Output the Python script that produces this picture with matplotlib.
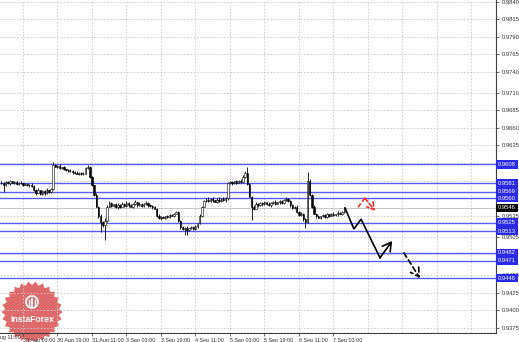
import numpy as np
import matplotlib
matplotlib.use("Agg")
import matplotlib.pyplot as plt
import matplotlib.transforms as mtransforms
from matplotlib.patches import Polygon, Circle

plt.rcParams["font.family"] = ["Liberation Sans", "DejaVu Sans"]

# ---------------- data ----------------
first_bar = 6
first_open = 0.9581
closes = [
    0.9582, 0.9579, 0.9583, 0.9581, 0.9584, 0.9582, 0.9583, 0.9580, 0.9582, 0.9581, 0.9579, 0.9580, 0.9578, 0.9579, 0.9577,
    0.9572, 0.9568, 0.9571, 0.9566, 0.9570, 0.9567, 0.9571, 0.9569, 0.9573,
    0.9607,
    0.9605, 0.9606, 0.9603, 0.9604, 0.9601, 0.9600, 0.9598, 0.9599, 0.9597, 0.9596, 0.9595, 0.9596, 0.9594, 0.9595,
    0.9603, 0.9605,
    0.9590, 0.9578, 0.9565, 0.9548, 0.9535,
    0.9526, 0.9522, 0.9528,
    0.9548, 0.9553,
    0.9549, 0.9551, 0.9547, 0.9550, 0.9548, 0.9552, 0.9549, 0.9553, 0.9550, 0.9548, 0.9551, 0.9554, 0.9550, 0.9552, 0.9549,
    0.9551, 0.9553, 0.9550, 0.9549, 0.9547, 0.9545,
    0.9535, 0.9531, 0.9533, 0.9532, 0.9534, 0.9533, 0.9536, 0.9535, 0.9538, 0.9540,
    0.9528, 0.9519, 0.9516, 0.9518, 0.9515, 0.9517, 0.9519, 0.9516, 0.9520, 0.9524,
    0.9535, 0.9548, 0.9556,
    0.9558, 0.9556, 0.9559, 0.9557, 0.9555, 0.9558, 0.9556, 0.9559, 0.9557, 0.9560,
    0.9581, 0.9583, 0.9581, 0.9584, 0.9582, 0.9585, 0.9583, 0.9590, 0.9596,
    0.9580, 0.9562, 0.9548, 0.9545,
    0.9552, 0.9550, 0.9553, 0.9551, 0.9554, 0.9552, 0.9550, 0.9553, 0.9555, 0.9552, 0.9554, 0.9556, 0.9553, 0.9557, 0.9559, 0.9556,
    0.9550, 0.9546, 0.9548, 0.9540, 0.9536, 0.9538, 0.9530, 0.9526,
    0.9585, 0.9565,
    0.9548, 0.9538, 0.9534, 0.9532,
    0.9534, 0.9536, 0.9533, 0.9537, 0.9535, 0.9538, 0.9536, 0.9537, 0.9539, 0.9538, 0.9540, 0.9546,
]
# wick lengths in pips beyond the candle body
wick_up = [
    2, 1, 2, 1, 2, 1, 1, 2, 1, 2, 1, 1, 2, 1, 2,
    2, 1, 3, 1, 2, 1, 3, 1, 2,
    4,
    2, 1, 2, 1, 2, 1, 1, 2, 1, 1, 2, 1, 1, 2,
    2, 2,
    1, 2, 1, 2, 1,
    2, 1, 3,
    2, 3,
    2, 1, 2, 3, 1, 2, 1, 3, 1, 2, 2, 3, 1, 2, 1, 2, 3, 1, 2, 1, 2,
    1, 2, 1, 2, 1, 2, 1, 2, 1, 2,
    2, 1, 2, 1, 2, 1, 2, 1, 2, 1,
    2, 1, 2,
    2, 3, 1, 2, 1, 2, 3, 1, 2, 1,
    2, 1, 2, 1, 2, 1, 2, 3, 2,
    8, 2, 1, 2,
    2, 1, 2, 1, 2, 1, 2, 2, 1, 2, 1, 2, 1, 2, 2, 1,
    1, 2, 1, 2, 1, 2, 1, 2,
    12, 2,
    1, 2, 1, 2,
    1, 2, 1, 2, 1, 1, 2, 1, 2, 1, 2, 1,
]
wick_dn = [
    1, 10, 2, 1, 2, 1, 2, 1, 2, 1, 2, 1, 1, 2, 1,
    2, 3, 1, 2, 1, 3, 1, 2, 1,
    1,
    1, 2, 1, 2, 1, 2, 1, 1, 2, 1, 1, 2, 1, 1,
    1, 2,
    2, 1, 2, 1, 3,
    14, 3, 22,
    2, 1,
    1, 2, 1, 2, 2, 1, 2, 1, 2, 1, 2, 1, 2, 1, 2, 1, 1, 2, 1, 2, 1,
    2, 1, 2, 1, 2, 1, 2, 1, 2, 1,
    2, 3, 2, 8, 8, 2, 1, 2, 1, 2,
    1, 2, 1,
    1, 2, 1, 2, 1, 2, 1, 2, 1, 2,
    2, 1, 2, 1, 2, 1, 2, 1, 1,
    2, 1, 19, 2,
    1, 2, 1, 2, 1, 2, 1, 2, 1, 2, 1, 2, 1, 2, 1, 2,
    2, 1, 2, 1, 2, 1, 2, 9,
    1, 2,
    2, 1, 2, 1,
    2, 1, 2, 1, 2, 1, 2, 1, 2, 1, 2, 1,
]

levels = [0.9608, 0.9581, 0.9569, 0.9560, 0.9525, 0.9513, 0.9482, 0.9471, 0.9446]
current_price = 0.9546

# grid/tick prices; labels hidden behind level boxes are left blank
price_ticks = [0.9840, 0.9815, 0.9790, 0.9765, 0.9740, 0.9710, 0.9685, 0.9660, 0.9635,
               0.9610, 0.9585, 0.9560, 0.9535, 0.9505, 0.9480, 0.9450, 0.9425, 0.9400, 0.9375]
price_tick_labels = ["0.9840", "0.9815", "0.9790", "0.9765", "0.9740", "0.9710", "0.9685", "0.9660", "0.9635",
                     "", "", "", "0.9535", "0.9505", "", "0.9450", "0.9425", "0.9400", "0.9375"]

time_tick_bars = [0, 16, 32, 48, 64, 80, 96, 112, 128, 144, 160]
time_tick_labels = ["29 Aug 11:00", "30 Aug 03:00", "30 Aug 19:00", "31 Aug 11:00", "3 Sep 03:00",
                    "3 Sep 19:00", "4 Sep 11:00", "5 Sep 03:00", "5 Sep 19:00", "6 Sep 11:00", "7 Sep 03:00"]
future_grid_bars = [176, 192, 208, 224]

# forecast paths (bar index, price)
main_path_bars = [165.4, 169.5, 172.8, 181.6, 187.2]
main_path_prices = [0.9546, 0.9516, 0.9530, 0.9475, 0.9499]
dash_path_bars = [192.7, 200.1]
dash_path_prices = [0.9482, 0.9446]
red_path_bars = [171.4, 174.6, 179.3]
red_path_prices = [0.9547, 0.9560, 0.9542]

# ---------------- figure ----------------
W, H = 519, 342
fig = plt.figure(figsize=(W / 100, H / 100), dpi=100)
fig.patch.set_facecolor("white")

# watermark logo (behind chart)
lax = fig.add_axes([0, 0, 1, 1])
lax.set_xlim(0, W)
lax.set_ylim(H, 0)
lax.axis("off")
lax.set_zorder(0)
cx, cy, n = 32, 312, 26
ang = np.linspace(0, 2 * np.pi, 2 * n, endpoint=False)
rad = np.where(np.arange(2 * n) % 2 == 0, 30.5, 27.0)
star = np.column_stack([cx + rad * np.cos(ang), cy + rad * np.sin(ang)])
lax.add_patch(Polygon(star, closed=True, fc="#dc5a5a", ec="none", alpha=0.9))
lax.add_patch(Circle((cx, 302), 6.0, fc="none", ec="white", lw=1.2))
lax.plot([cx, cx], [299, 307], color="white", lw=1.4)
lax.plot([cx - 3, cx - 3], [300, 305], color="white", lw=1.0)
lax.plot([cx + 3, cx + 3], [300, 305], color="white", lw=1.0)
lax.text(cx, 320, "InstaForex", color="white", fontsize=6.2, ha="center", va="center",
         fontweight="bold")

# main chart axes
ax = fig.add_axes([0, 9 / H, 496 / W, 333 / H])
ax.set_zorder(1)
ax.patch.set_visible(False)

x_min, x_max = 5.33, 235.4
y_min, y_max = 0.93679, 0.98422
ax.set_xlim(x_min, x_max)
ax.set_ylim(y_min, y_max)

# grid
for t in price_ticks:
    ax.axhline(t, color="#c8c8c8", lw=0.6, ls=(0, (2, 2)), zorder=0.5)
for b in time_tick_bars + future_grid_bars:
    ax.axvline(b, color="#c8c8c8", lw=0.6, ls=(0, (2, 2)), zorder=0.5)

# level lines
for lv in levels:
    ax.axhline(lv, color="#5a5af5", lw=1.0, zorder=1)
ax.axhline(current_price, color="#bdbdbd", lw=0.6, zorder=1)

# candles
closes_a = np.array(closes)
opens_a = np.concatenate([[first_open], closes_a[:-1]])
bars = np.arange(first_bar, first_bar + len(closes))
top = np.maximum(opens_a, closes_a)
bot = np.minimum(opens_a, closes_a)
highs = top + np.array(wick_up) * 0.0001
lows = bot - np.array(wick_dn) * 0.0001
ax.vlines(bars, lows, highs, color="black", lw=0.6, zorder=3)
heights = np.maximum(top - bot, 0.00004)
fills = ["white" if c >= o else "black" for o, c in zip(opens_a, closes_a)]
ax.bar(bars, heights, bottom=bot, width=0.65, color=fills, edgecolor="black", lw=0.4, zorder=4)

# forecast arrows
ax.plot(main_path_bars[:-1], main_path_prices[:-1], color="black", lw=1.2, zorder=5,
        solid_joinstyle="miter")
ax.annotate("", xy=(main_path_bars[-1], main_path_prices[-1]),
            xytext=(main_path_bars[-2], main_path_prices[-2]),
            arrowprops=dict(arrowstyle="->,head_length=0.6,head_width=0.35", color="black", lw=1.2,
                            shrinkA=0, shrinkB=0, mutation_scale=10), zorder=5)
ax.annotate("", xy=(dash_path_bars[-1], dash_path_prices[-1]),
            xytext=(dash_path_bars[0], dash_path_prices[0]),
            arrowprops=dict(arrowstyle="->,head_length=0.6,head_width=0.35", color="black", lw=1.2,
                            ls=(0, (3, 2)), shrinkA=0, shrinkB=0, mutation_scale=10), zorder=5)
ax.plot(red_path_bars[:-1], red_path_prices[:-1], color="#ff2020", lw=1.1, ls=(0, (3, 1.5)), zorder=5)
ax.annotate("", xy=(red_path_bars[-1], red_path_prices[-1]),
            xytext=(red_path_bars[-2], red_path_prices[-2]),
            arrowprops=dict(arrowstyle="->,head_length=0.5,head_width=0.3", color="#ff2020", lw=1.1,
                            ls=(0, (3, 1.5)), shrinkA=0, shrinkB=0, mutation_scale=10), zorder=5)

# axes styling
for s in ["top", "left"]:
    ax.spines[s].set_visible(False)
for s in ["right", "bottom"]:
    ax.spines[s].set_color("#404040")
    ax.spines[s].set_linewidth(0.8)

ax.yaxis.tick_right()
ax.set_yticks(price_ticks)
ax.set_yticklabels(price_tick_labels)
ax.tick_params(axis="y", which="both", labelsize=4.2, length=2, width=0.5, pad=2,
               colors="#333333", labelcolor="#333333")

ax.set_xticks(time_tick_bars[1:])
ax.set_xticklabels(time_tick_labels[1:])
ax.tick_params(axis="x", labelsize=3.9, length=2.5, width=0.5, pad=1, colors="#333333")
for lbl in ax.get_xticklabels():
    lbl.set_ha("left")
ax.text(time_tick_bars[0], -0.007, time_tick_labels[0], transform=mtransforms.blended_transform_factory(
    ax.transData, ax.transAxes), fontsize=3.9, color="#333333", ha="left", va="top", clip_on=False)

# level price labels
tr = mtransforms.blended_transform_factory(ax.transAxes, ax.transData)
for lv in levels:
    ax.text(1.0 + 2 / 496, lv, f"{lv:.4f}", transform=tr, fontsize=4.2, color="white",
            ha="left", va="center", clip_on=False, zorder=10,
            bbox=dict(boxstyle="square,pad=0.3", fc="#2a2ae6", ec="none"))
ax.text(1.0 + 2 / 496, current_price, f"{current_price:.4f}", transform=tr, fontsize=4.2,
        color="white", ha="left", va="center", clip_on=False, zorder=10,
        bbox=dict(boxstyle="square,pad=0.3", fc="black", ec="none"))

fig.savefig("out.png", dpi=100, facecolor="white")
